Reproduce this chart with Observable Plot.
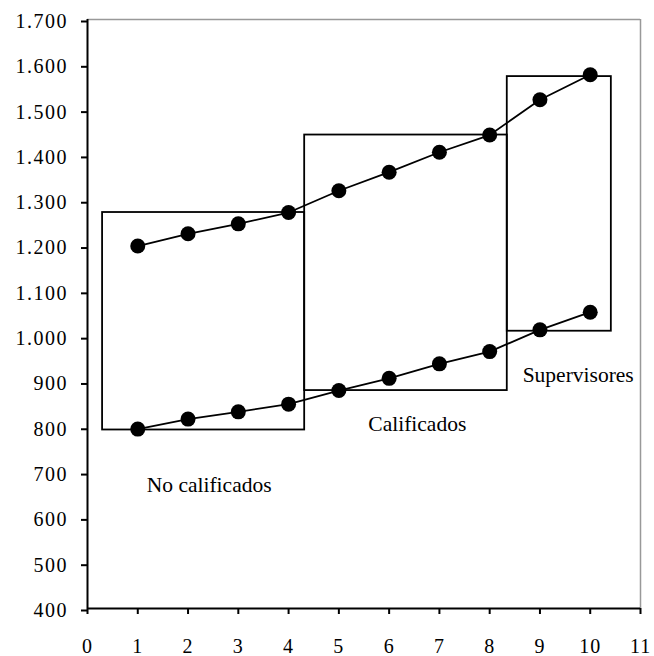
<!DOCTYPE html>
<html><head><meta charset="utf-8">
<script src="https://cdn.jsdelivr.net/npm/d3@7"></script>
<script src="https://cdn.jsdelivr.net/npm/@observablehq/plot@0.6"></script>
<style>
body{margin:0;background:#fff}
#chart svg, #chart svg text{font-family:"Liberation Serif","Times New Roman",Times,serif !important}
#chart g[aria-label="y-axis tick label"] text{letter-spacing:1.5px}
#chart g[aria-label="x-axis tick label"] text{letter-spacing:1px}
</style>
</head><body><div id="chart"></div>
<script>
const periods = [1, 2, 3, 4, 5, 6, 7, 8, 9, 10];
const upperSeries = [1200, 1227, 1249, 1274, 1322, 1363, 1407, 1445, 1523, 1578];
const lowerSeries = [796, 818, 834, 851, 881, 908, 940, 967, 1015, 1054];
const groupNames = ["No calificados", "Calificados", "Supervisores"];
const groupStart = [0.3, 4.32, 8.35];
const groupEnd = [4.32, 8.35, 10.42];
const groupLow = [794, 881, 1012];
const groupHigh = [1274, 1445, 1574];
const labelX = [2.42, 6.56, 9.76];
const labelY = [673, 806, 916];
const xTicks = [0, 1, 2, 3, 4, 5, 6, 7, 8, 9, 10, 11];
const yTicks = [400, 500, 600, 700, 800, 900, 1000, 1100, 1200, 1300, 1400, 1500, 1600, 1700];

const esLocale = d3.formatLocale({decimal: ",", thousands: ".", grouping: [3], currency: ["", " €"]});
const fmt = esLocale.format(",d");

const chart = Plot.plot({
  width: 654,
  height: 656,
  marginLeft: 87,
  marginRight: 14,
  marginTop: 19,
  marginBottom: 48,
  x: {domain: [0, 11]},
  y: {domain: [400, 1700]},
  style: {fontFamily: "Liberation Serif, serif", fontSize: "20px", color: "#000", background: "#fff"},
  marks: [
    Plot.ruleY([1700], {stroke: "#999", strokeWidth: 1.5}),
    Plot.ruleX([11], {stroke: "#999", strokeWidth: 1.5}),
    Plot.rect(groupNames, {
      x1: (d, i) => groupStart[i], x2: (d, i) => groupEnd[i],
      y1: (d, i) => groupLow[i], y2: (d, i) => groupHigh[i],
      fill: "none", stroke: "#000", strokeWidth: 1.8
    }),
    Plot.line(periods, {x: d => d, y: (d, i) => upperSeries[i], stroke: "#000", strokeWidth: 1.8}),
    Plot.line(periods, {x: d => d, y: (d, i) => lowerSeries[i], stroke: "#000", strokeWidth: 1.8}),
    Plot.dot(periods, {x: d => d, y: (d, i) => upperSeries[i], r: 7.5, fill: "#000"}),
    Plot.dot(periods, {x: d => d, y: (d, i) => lowerSeries[i], r: 7.5, fill: "#000"}),
    Plot.text(groupNames, {x: (d, i) => labelX[i], y: (d, i) => labelY[i], text: d => d, fontSize: 21.5, fill: "#000"}),
    Plot.axisY(yTicks, {tickSize: 6, tickPadding: 13.5, tickFormat: fmt, strokeWidth: 2, fontSize: 20, dy: 2}),
    Plot.axisX(xTicks, {tickSize: 6, tickPadding: 24, tickFormat: d => String(d), strokeWidth: 2, fontSize: 20}),
    Plot.ruleX([0], {stroke: "#000", strokeWidth: 2}),
    Plot.ruleY([400], {stroke: "#000", strokeWidth: 2})
  ]
});
document.getElementById("chart").appendChild(chart);
</script>
</body></html>
